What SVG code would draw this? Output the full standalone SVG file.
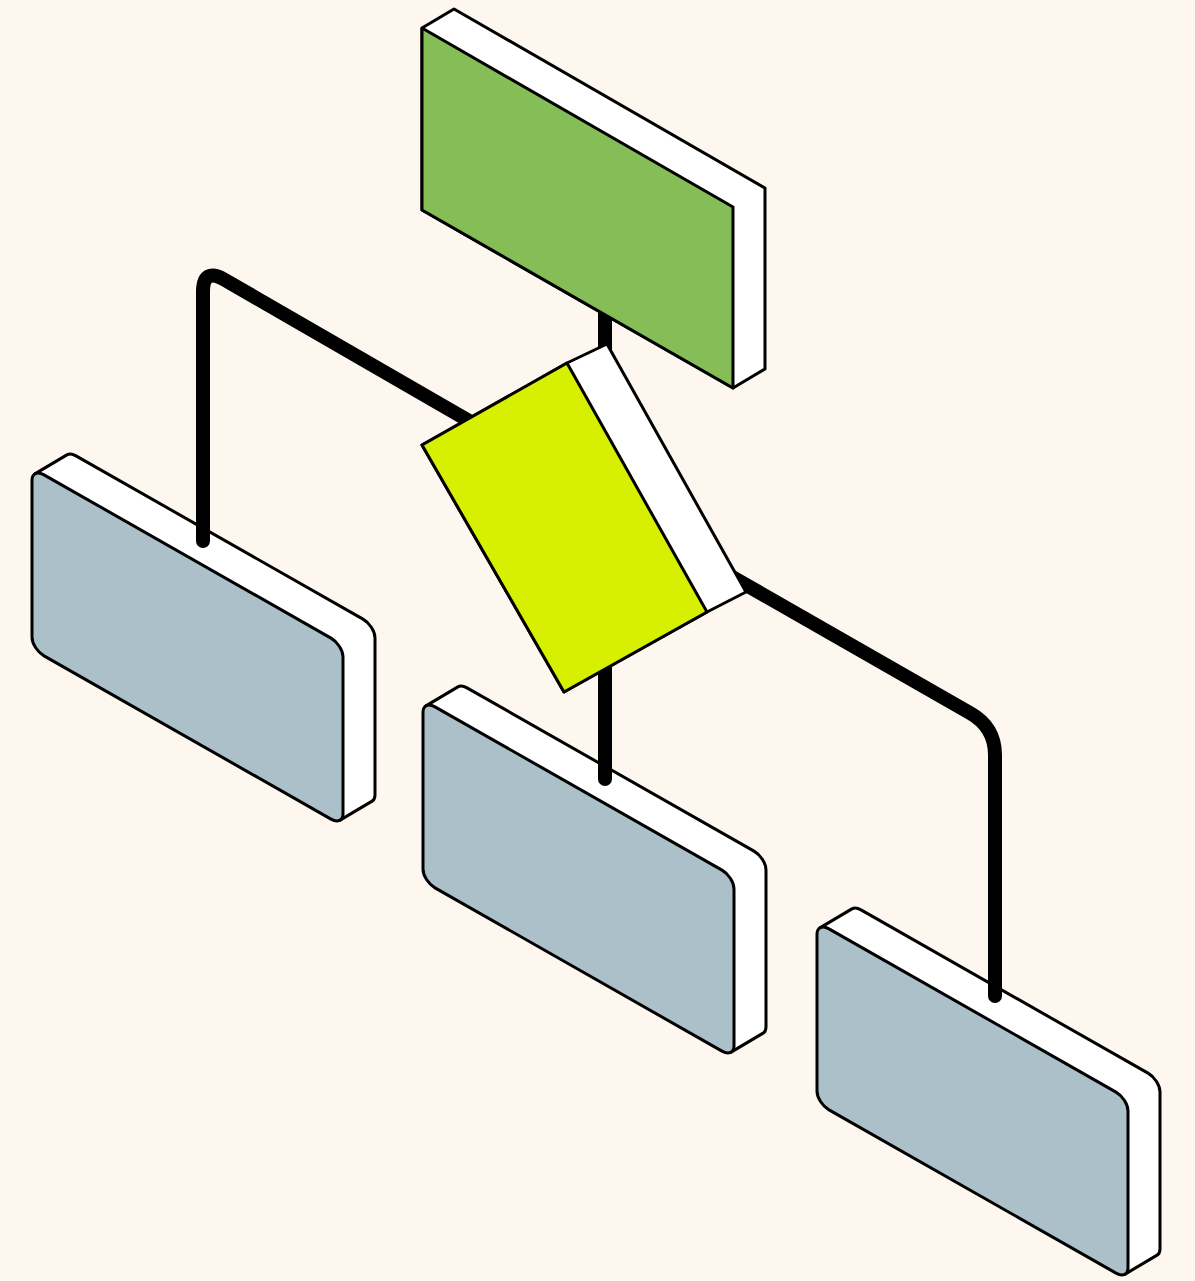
<svg xmlns="http://www.w3.org/2000/svg" width="1195" height="1281" viewBox="0 0 1195 1281">
<defs>
<style>
.bg{fill:#FEF7F0}
.side{fill:#FFFFFF;stroke:#000;stroke-width:3;stroke-linejoin:round}
.blue{fill:#ABC0C8;stroke:#000;stroke-width:3;stroke-linejoin:round}
.green{fill:#85BD57;stroke:#000;stroke-width:3;stroke-linejoin:round}
.yellow{fill:#D7EF00;stroke:#000;stroke-width:3;stroke-linejoin:round}
.conn{fill:none;stroke:#000;stroke-width:14;stroke-linecap:round;stroke-linejoin:round}
</style>
<g id="card">
<path class="side" vector-effect="non-scaling-stroke" d="M308.1 176.8 L2.9 4.2 L34.9 -33 A12 12 0 0 1 44 -37.2 L331 -37.2 A12 12 0 0 1 343 -25.2 L343 131.8 A12 12 0 0 1 340.1 139.6 Z"/>
<rect class="blue" vector-effect="non-scaling-stroke" x="0" y="0" width="311" height="181" rx="12" ry="12"/>
</g>
</defs>
<rect class="bg" x="0" y="0" width="1195" height="1281"/>
<g id="node-left">
<use href="#card" transform="matrix(1,0.5691,0,1,32,468)"/>
</g>
<g id="node-middle">
<use href="#card" transform="matrix(1,0.5691,0,1,423,700)"/>
</g>
<g id="node-right">
<use href="#card" transform="matrix(1,0.5691,0,1,817,922)"/>
</g>
<g id="connectors">
<path class="conn" d="M605 300 L605 380"/>
<path class="conn" d="M605 650 L605 779"/>
<path class="conn" d="M490 433 L225 280 Q203 267 203 292 L203 541"/>
<path class="conn" d="M720 570 L970 713 Q995 727 995 755 L995 996"/>
</g>
<g id="node-decision">
<polygon class="side" points="422,445 567,363 607,344 746,592 707,612 564,692"/>
<polygon class="yellow" points="422,445 567,363 707,612 564,692"/>
</g>
<g id="node-top">
<polygon class="side" points="422,28 454,9 765,188 765,369 733,388 422,210"/>
<polygon class="green" points="422,28 733,207 733,388 422,210"/>
</g>
</svg>
